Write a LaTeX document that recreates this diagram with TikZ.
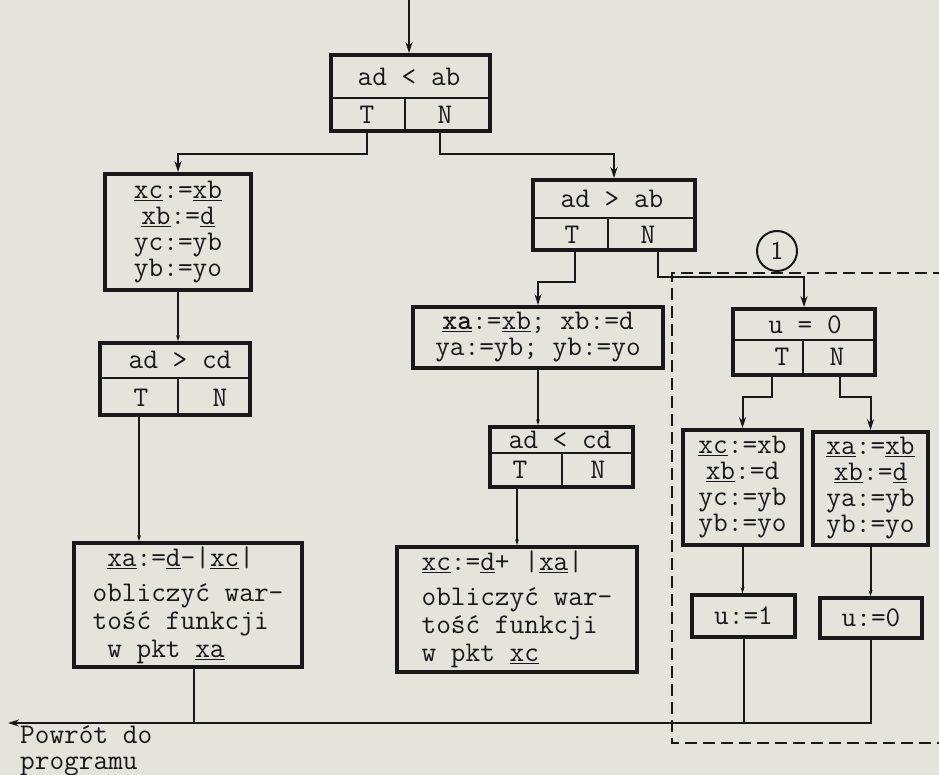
\documentclass[tikz,border=0pt]{standalone}
\usepackage{fontspec}
\usetikzlibrary{arrows.meta}
\definecolor{paper}{RGB}{228,228,220}
\definecolor{ink}{RGB}{24,24,24}
\newcommand\vu[1]{\underline{#1}}
\begin{document}
\begin{tikzpicture}[x=1pt,y=-1pt,
  box/.style={draw=ink, line width=3.8pt, inner sep=0pt, text=ink,
              font=\ttfamily\fontsize{28.5}{26}\selectfont},
  txt/.style={inner sep=0pt, text=ink, font=\ttfamily\fontsize{28.5}{26}\selectfont},
  divl/.style={draw=ink, line width=2pt},
  conn/.style={draw=ink, line width=2pt},
  arr/.style={-{Stealth[length=11pt,width=7pt]}},
  sarr/.style={-{Stealth[length=6pt,width=4pt]}}]
\fill[paper] (0,0) rectangle (939,775);
\useasboundingbox (0,0) rectangle (939,775);

% ---------- decision 1: ad < ab
\node[box, minimum width=159pt, minimum height=76pt] (d1) at (410.5,93) {};
\node[txt] (d1c) at (409,77) {ad < ab};
\node[txt] (d1t) at (367,115) {T};
\node[txt] (d1n) at (445,115) {N};
\draw[divl] (d1.west |- 0,98) -- (d1.east |- 0,98);
\draw[divl] (405,98) -- (405,131);

% ---------- box 2
\node[box, minimum width=146pt, minimum height=116pt, align=center] (b2) at (178,232)
  {\vu{xc}:=\vu{xb}\\\vu{xb}:=\vu{d}\\yc:=yb\\yb:=yo};

% ---------- decision 3: ad > cd
\node[box, minimum width=150pt, minimum height=72pt] (d3) at (175,379) {};
\node[txt] (d3c) at (180,360) {ad > cd};
\node[txt] (d3t) at (141,398) {T};
\node[txt] (d3n) at (220,398) {N};
\draw[divl] (d3.west |- 0,378) -- (d3.east |- 0,378);
\draw[divl] (178,378) -- (178,415);

% ---------- box 5
\node[box, minimum width=228pt, minimum height=124pt, align=left,
      font=\ttfamily\fontsize{28.5}{28}\selectfont] (b5) at (188,605)
  {\ \vu{xa}:=\vu{d}-|\vu{xc}|\\[7pt]obliczyć war-\\tość funkcji\\\ w pkt \vu{xa}};

% ---------- decision 2: ad > ab
\node[box, minimum width=162pt, minimum height=70pt] (d2) at (614,215) {};
\node[txt] (d2c) at (612,199) {ad > ab};
\node[txt] (d2t) at (572,235) {T};
\node[txt] (d2n) at (648,235) {N};
\draw[divl] (d2.west |- 0,218) -- (d2.east |- 0,218);
\draw[divl] (608,218) -- (608,250);

% ---------- box 6
\node[box, minimum width=250pt, minimum height=61pt, align=center] (b6) at (538,337.5)
  {\textbf{\vu{xa}}:=\vu{xb}; xb:=d\\ya:=yb; yb:=yo};

% ---------- decision 4: ad < cd
\node[box, minimum width=143pt, minimum height=60pt] (d4) at (561.5,457) {};
\node[txt] (d4c) at (560,440) {ad < cd};
\node[txt] (d4t) at (520,470) {T};
\node[txt] (d4n) at (598,470) {N};
\draw[divl] (d4.west |- 0,453) -- (d4.east |- 0,453);
\draw[divl] (562,453) -- (562,487);

% ---------- box 9
\node[box, minimum width=240pt, minimum height=125pt, align=left,
      font=\ttfamily\fontsize{28.5}{28}\selectfont] (b9) at (517,609.5)
  {\vu{xc}:=\vu{d}+ |\vu{xa}|\\[7pt]obliczyć war-\\tość funkcji\\w pkt \vu{xc}};

% ---------- dashed region with label 1
\draw[ink, line width=2pt, dash pattern=on 12pt off 6pt]
  (945,273) -- (672,273) -- (672,743) -- (945,743);
\node[draw=ink, circle, line width=2pt, minimum size=40pt, inner sep=0pt,
      text=ink, font=\sffamily\fontsize{26}{26}\selectfont] (c1) at (777,251) {1};

% ---------- decision 5: u = 0
\node[box, minimum width=142pt, minimum height=66pt] (d5) at (804,342) {};
\node[txt] (d5c) at (805,325) {u = 0};
\node[txt] (d5t) at (782,357) {T};
\node[txt] (d5n) at (837,357) {N};
\draw[divl] (d5.west |- 0,340) -- (d5.east |- 0,340);
\draw[divl] (803,340) -- (803,375);

% ---------- boxes 10, 11
\node[box, minimum width=119pt, minimum height=115pt, align=center] (b10) at (742.5,487.5)
  {\vu{xc}:=xb\\\vu{xb}:=d\\yc:=yb\\yb:=yo};
\node[box, minimum width=115pt, minimum height=113pt, align=center] (b11) at (870.5,488.5)
  {\vu{xa}:=\vu{xb}\\\vu{xb}:=\vu{d}\\ya:=yb\\yb:=yo};

% ---------- boxes 12, 13
\node[box, minimum width=103pt, minimum height=42pt] (b12) at (743.5,616) {u:=1};
\node[box, minimum width=102pt, minimum height=40pt] (b13) at (871,618) {u:=0};

% ---------- return label
\coordinate (ret) at (8,723);
\node[txt, anchor=base west] (rl1) at (20,743) {Powrót do};
\node[txt, anchor=base west] (rl2) at (20,769) {programu};

% ---------- connectors
\coordinate (start) at (409,0);
\draw[conn,arr] (start) -- (start |- d1.north);
\draw[conn,arr] (d1t |- d1.south) -- ++(0,21) -| (b2.north);
\draw[conn,arr] (440,0 |- d1.south) -- ++(0,21) -| (d2.north);
\draw[conn,sarr] (b2.south) -- (b2.south |- d3.north);
\draw[conn,sarr] (139,0 |- d3.south) -- (139,0 |- b5.north);
\draw[conn,arr] (575,0 |- d2.south) -- ++(0,30) -| (b6.north);
\draw[conn,arr] (658,0 |- d2.south) -- (658,277) -| (d5.north);
\draw[conn,sarr] (b6.south) -- (b6.south |- d4.north);
\draw[conn,sarr] (517,0 |- d4.south) -- (517,0 |- b9.north);
\draw[conn,arr] (772,0 |- d5.south) -- ++(0,20) -| (b10.north);
\draw[conn,arr] (840,0 |- d5.south) -- ++(0,20) -| (b11.north);
\draw[conn,sarr] (b10.south) -- (b10.south |- b12.north);
\draw[conn,sarr] (b11.south) -- (b11.south |- b13.north);
\draw[conn,arr] (b13.south) -- (b13.south |- ret) -- (ret);
\draw[conn] (b12.south) -- (b12.south |- ret);
\draw[conn] (194,0 |- b5.south) -- (194,0 |- ret);
\end{tikzpicture}
\end{document}
